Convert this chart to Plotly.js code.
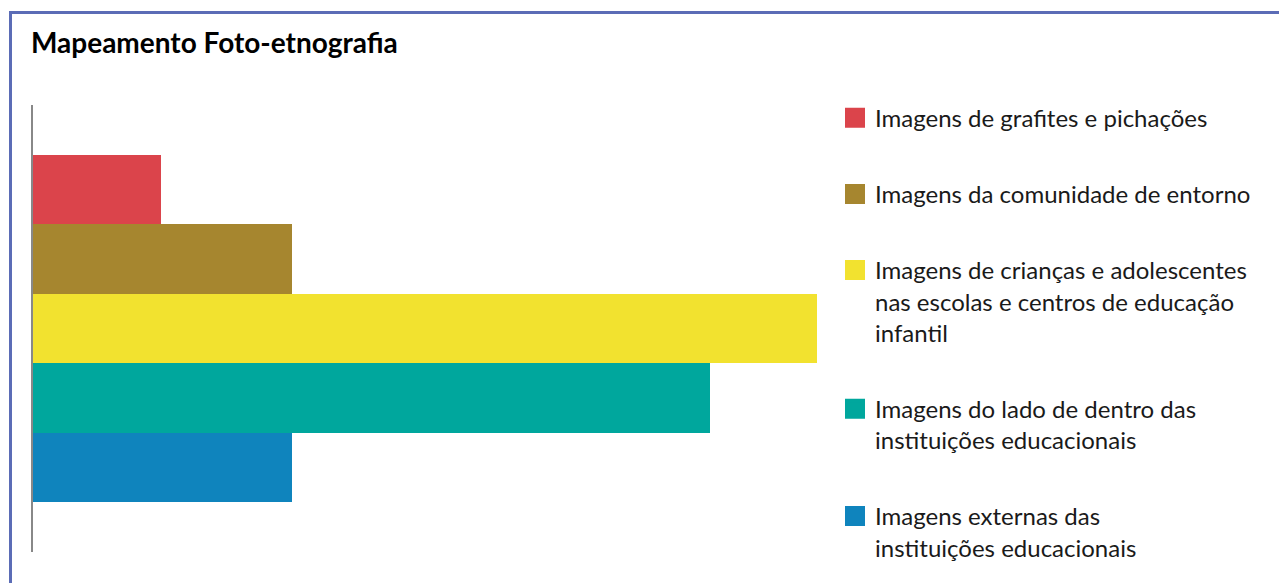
<!DOCTYPE html>
<html>
<head>
<meta charset="utf-8">
<script src="https://cdn.plot.ly/plotly-3.0.1.min.js"></script>
<style>
  html, body { margin: 0; padding: 0; background: #ffffff; overflow: hidden; }
  #chart { width: 1279px; height: 583px; }
</style>
</head>
<body>
<div id="chart"></div>
<script>
// ---- data ----
const categories = [
  "Imagens de grafites e pichações",
  "Imagens da comunidade de entorno",
  "Imagens de crianças e adolescentes nas escolas e centros de educação infantil",
  "Imagens do lado de dentro das instituições educacionais",
  "Imagens externas das instituições educacionais"
];
const legendLabels = [
  "Imagens de grafites e pichações",
  "Imagens da comunidade de entorno",
  "Imagens de crianças e adolescentes<br>nas escolas e centros de educação<br>infantil",
  "Imagens do lado de dentro das<br>instituições educacionais",
  "Imagens externas das<br>instituições educacionais"
];
const values = [8, 16.2, 49, 42.3, 16.2];
const colors = ["#db444b", "#a6862f", "#f2e22f", "#00a79d", "#0f84bd"];
const chartTitle = "Mapeamento Foto-etnografia";

// ---- traces ----
const traces = [{
  type: "bar",
  orientation: "h",
  y: categories,
  x: values,
  marker: { color: colors, line: { width: 0 } },
  showlegend: false,
  hoverinfo: "x+y"
}];
categories.forEach((c, i) => {
  traces.push({
    type: "scatter",
    mode: "markers",
    x: [null],
    y: [null],
    name: legendLabels[i],
    legendgroup: "g" + i,
    marker: { symbol: "square", size: 16, color: colors[i], line: { width: 4, color: colors[i] } },
    hoverinfo: "skip"
  });
});

const layout = {
  width: 1279,
  height: 583,
  margin: { l: 33, r: 462, t: 105, b: 31, pad: 0 },
  paper_bgcolor: "#ffffff",
  plot_bgcolor: "#ffffff",
  font: { family: "Lato, 'Noto Sans', sans-serif", color: "#1a1a1a" },
  title: {
    text: "<b>" + chartTitle + "</b>",
    font: { family: "Lato, 'Noto Sans', sans-serif", size: 28, color: "#000000" },
    xref: "container", x: 31 / 1279, xanchor: "left",
    yref: "container", y: 1 - 43.5 / 583, yanchor: "middle"
  },
  bargap: 0,
  barmode: "overlay",
  xaxis: {
    range: [0, 49],
    showgrid: false, zeroline: false, showline: false,
    showticklabels: false, ticks: "", fixedrange: true
  },
  yaxis: {
    type: "category",
    categoryorder: "array",
    categoryarray: categories,
    range: [5.22, -1.22],
    showgrid: false, zeroline: false,
    showline: true, linecolor: "#888888", linewidth: 2,
    showticklabels: false, ticks: "", fixedrange: true
  },
  showlegend: true,
  legend: {
    x: (835 - 33) / 784, xanchor: "left",
    y: 1 + 9.4 / 447, yanchor: "top",
    traceorder: "grouped",
    tracegroupgap: 42,
    valign: "top",
    maxheight: 800,
    itemclick: false, itemdoubleclick: false,
    font: { family: "Lato, 'Noto Sans', sans-serif", size: 24, color: "#1a1a1a" },
    bgcolor: "rgba(0,0,0,0)", borderwidth: 0
  },
  shapes: [{
    type: "rect", xref: "paper", yref: "paper", layer: "above",
    x0: (10.5 - 33) / 784, x1: 3,
    y0: -1, y1: 1 + (105 - 12.5) / 447,
    line: { color: "#5b6cb6", width: 3 },
    fillcolor: "rgba(0,0,0,0)"
  }]
};

Plotly.newPlot("chart", traces, layout, { displayModeBar: false, responsive: false });
</script>
</body>
</html>
